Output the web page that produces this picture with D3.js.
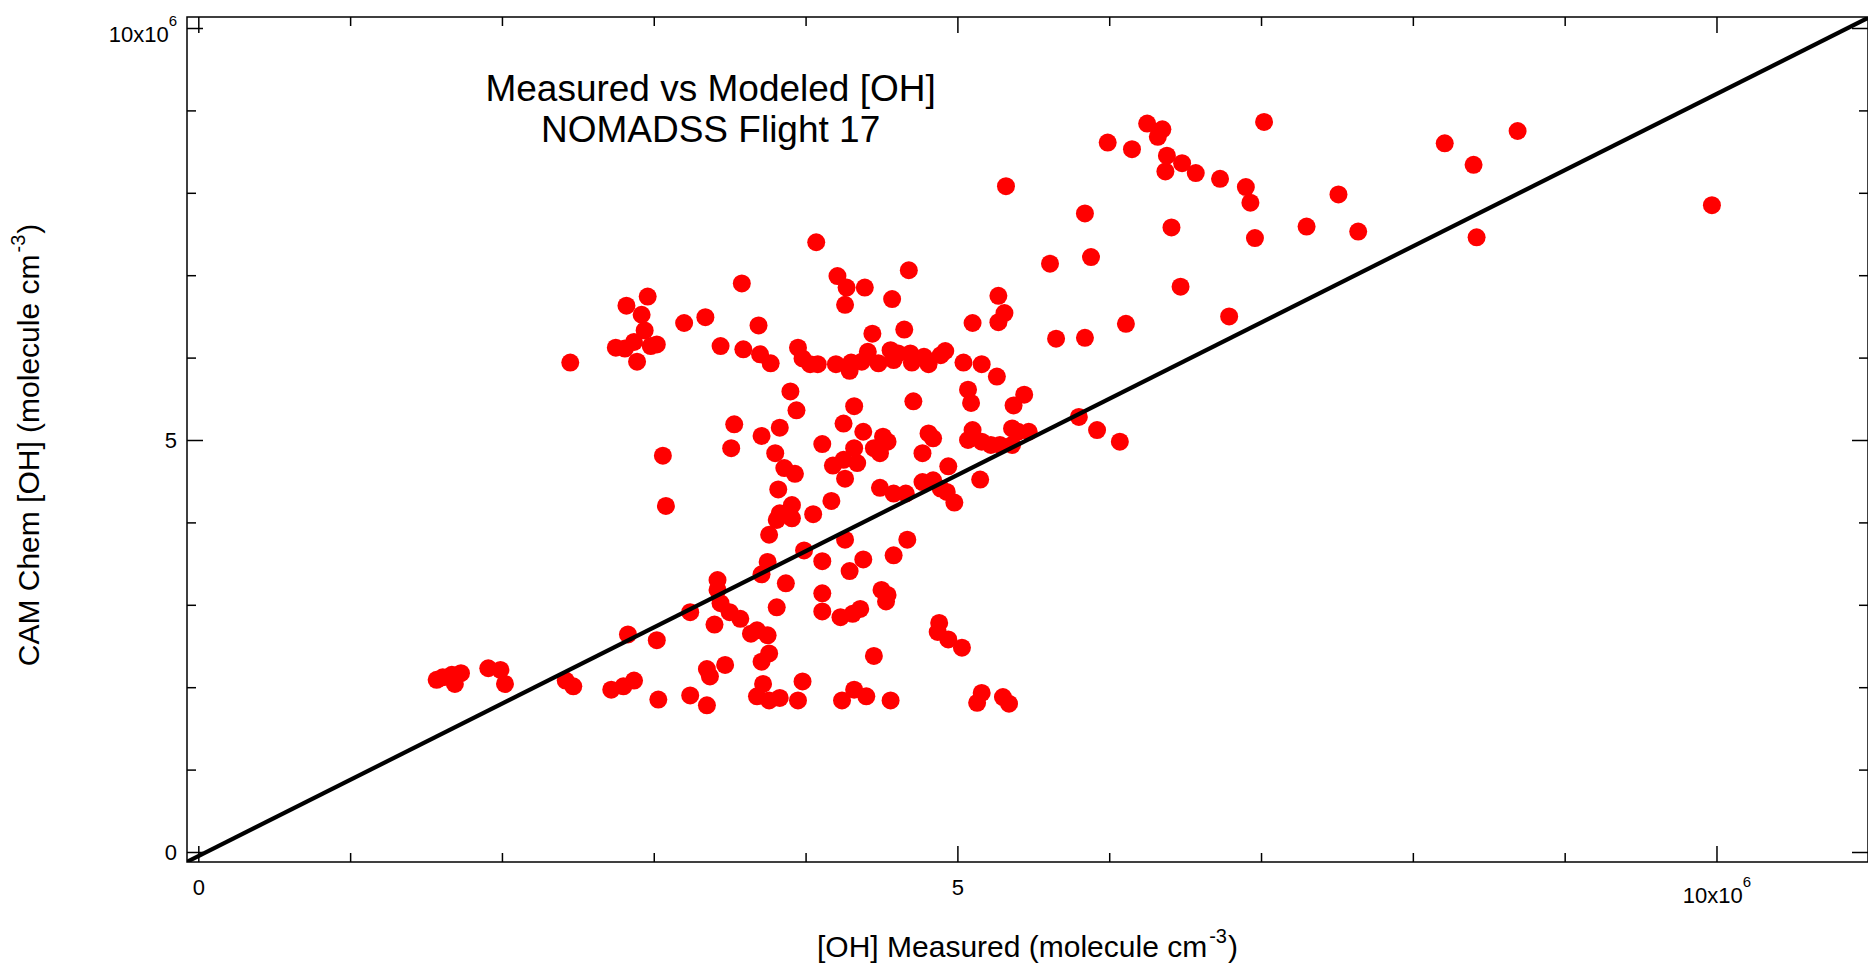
<!DOCTYPE html>
<html><head><meta charset="utf-8">
<script src="https://cdn.jsdelivr.net/npm/d3@7"></script>
<style>
body{margin:0;background:#fff}
svg{display:block}
text{font-family:"Liberation Sans",Arial,Helvetica,sans-serif;fill:#000}
</style>
</head><body>
<svg id="chart" width="1868" height="970"></svg>
<script>
// [OH] measured (x) and CAM Chem modeled (y), units of 1e6 molecule cm^-3
const measured = [
2.96,2.82,2.92,3.20,2.94,2.87,2.75,2.81,2.98,3.02,2.89,2.45,3.06,3.08,3.24,2.83,3.02,1.57,1.61,1.67,
1.73,1.69,1.91,1.99,2.02,2.42,2.47,2.72,2.80,2.87,3.03,3.24,4.07,3.58,4.21,4.27,4.39,4.26,3.34,3.69,
3.44,3.59,3.70,3.77,3.95,3.98,4.03,4.08,4.20,4.29,4.30,4.37,4.41,4.44,3.90,3.94,4.32,4.25,4.38,3.53,
3.83,3.71,3.51,4.11,3.80,4.32,4.45,4.18,4.25,4.34,3.86,3.93,4.26,3.82,4.17,3.91,3.83,3.91,3.81,4.05,
3.76,4.26,3.99,4.11,4.38,3.75,3.71,4.29,3.87,3.42,3.42,3.44,3.50,3.57,3.81,4.11,4.11,4.23,4.31,4.36,
3.40,3.64,3.68,3.75,3.76,3.71,3.35,3.37,3.47,3.72,3.68,3.76,3.83,3.98,3.95,3.35,4.24,4.32,4.40,4.45,
4.68,4.57,5.27,5.31,5.27,5.10,4.65,4.48,4.56,4.61,4.58,4.69,4.70,4.78,4.81,4.92,4.89,5.04,5.16,5.26,
5.07,5.09,5.44,5.37,4.71,4.51,4.54,4.49,4.81,4.84,4.77,4.94,5.10,5.07,5.16,5.22,5.28,5.36,5.40,5.47,
5.36,4.49,4.58,4.66,4.77,4.84,4.89,4.93,4.98,5.15,4.67,4.58,4.50,4.54,4.53,4.88,4.87,4.94,5.03,4.56,
5.16,5.13,5.30,5.34,6.25,6.35,6.32,7.02,5.99,6.15,6.38,6.48,6.37,6.57,6.73,6.90,6.93,5.32,5.84,6.41,
6.96,7.30,5.61,5.88,6.47,6.79,6.11,5.65,5.84,5.80,5.92,6.07,7.51,7.64,8.21,8.40,8.42,8.69,9.97
];
const modeled = [
6.74,6.63,6.52,6.42,6.33,6.19,6.12,6.11,6.14,6.16,5.95,5.94,4.81,4.20,2.91,2.64,2.57,2.09,2.12,2.15,
2.17,2.04,2.23,2.21,2.04,2.08,2.01,1.97,2.01,2.08,1.85,1.90,7.40,6.90,6.99,6.85,6.85,6.64,6.49,6.39,
6.14,6.10,6.04,5.93,6.12,5.99,5.92,5.92,5.92,5.84,5.94,5.95,6.07,6.29,5.59,5.36,5.41,5.20,5.10,5.19,
5.15,5.05,4.90,4.95,4.84,4.90,4.90,4.69,4.76,4.72,4.66,4.59,4.53,4.40,4.26,4.21,4.11,4.05,4.03,4.10,
3.85,3.79,3.66,3.53,3.55,3.52,3.37,3.41,3.26,3.30,3.18,3.02,2.91,2.83,2.97,3.14,2.92,2.85,2.89,2.95,
2.76,2.65,2.69,2.63,2.41,2.31,2.22,2.13,2.27,2.04,1.89,1.84,1.87,2.07,1.84,1.78,1.84,1.97,1.89,2.38,
7.06,6.71,6.75,6.54,6.43,6.42,6.34,5.93,6.09,6.05,5.97,6.05,5.94,6.01,5.92,6.08,6.03,5.94,5.92,5.77,
5.61,5.45,5.55,5.42,5.47,5.04,4.98,4.84,5.08,5.02,4.84,4.68,5.12,5.00,4.98,4.94,4.94,5.14,5.10,5.10,
4.94,4.42,4.35,4.35,4.49,4.51,4.41,4.37,4.24,4.52,3.79,3.60,3.18,3.12,3.04,2.78,2.67,2.58,2.48,1.84,
1.93,1.81,1.88,1.80,8.84,8.77,8.68,8.86,8.61,8.53,8.45,8.36,8.26,8.24,8.17,8.07,7.88,8.08,7.75,7.58,
7.45,7.59,7.14,7.22,6.86,6.50,6.41,6.23,6.24,5.28,5.12,4.98,7.98,7.53,8.60,8.34,7.46,8.75,7.85
];
const majorTicks = [0, 5, 10];
const minorTicks = [1, 2, 3, 4, 6, 7, 8, 9];
const tickLabels = ["0", "5", "10x10"];
const tickExponents = ["", "", "6"];
const fitSlope = 0.925, fitIntercept = -0.05;
const titleLines = ["Measured vs Modeled [OH]", "NOMADSS Flight 17"];
const xTitle = "[OH] Measured (molecule cm", yTitle = "CAM Chem [OH] (molecule cm", unitExp = "-3";

const svg = d3.select("#chart");
const pLeft = 187, pRight = 1868, pTop = 17, pBottom = 862;
const x = d3.scaleLinear().domain([-0.0745, 10.998]).range([pLeft, pRight]);
const y = d3.scaleLinear().domain([-0.1214, 10.1335]).range([pBottom, pTop]);
const FONT = '"Liberation Sans",Arial,Helvetica,sans-serif';

svg.append("rect").attr("width", 1868).attr("height", 970).attr("fill", "#fff");

svg.append("clipPath").attr("id", "plotclip").append("rect")
  .attr("x", pLeft).attr("y", pTop).attr("width", pRight - pLeft).attr("height", pBottom - pTop);

const data = measured.map((m, i) => ({m, c: modeled[i]}));

// points
svg.append("g").attr("clip-path", "url(#plotclip)")
  .selectAll("circle").data(data).join("circle")
  .attr("cx", d => x(d.m)).attr("cy", d => y(d.c)).attr("r", 9).attr("fill", "#ff0000");

// fit line
const xd = x.domain();
svg.append("path").attr("clip-path", "url(#plotclip)")
  .datum([xd[0], xd[1]])
  .attr("d", d3.line().x(d => x(d)).y(d => y(fitSlope * d + fitIntercept)))
  .attr("fill", "none").attr("stroke", "#000").attr("stroke-width", 4.2);

function styleAxis(g) {
  g.select(".domain").remove();
  g.attr("font-family", FONT).attr("font-size", 22);
  g.selectAll(".tick line").attr("stroke", "#000").attr("stroke-width", 1.5);
}
function addExp(g, extra) {
  g.selectAll(".tick text").each(function(d, i) {
    if (tickExponents[i]) {
      const t = d3.select(this);
      t.text(null);
      t.append("tspan").text(tickLabels[i]);
      t.append("tspan").attr("dy", -16).attr("font-size", 15).text(tickExponents[i]);
      extra(t);
    }
  });
}

// bottom
const gb = svg.append("g").attr("transform", `translate(0,${pBottom})`)
  .call(d3.axisBottom(x).tickValues(majorTicks).tickSize(-16).tickPadding(17).tickFormat((d, i) => tickLabels[i]));
styleAxis(gb);
addExp(gb, t => t.attr("y", 25));
const gbm = svg.append("g").attr("transform", `translate(0,${pBottom})`)
  .call(d3.axisBottom(x).tickValues(minorTicks).tickSize(-9).tickFormat(""));
styleAxis(gbm);

// left
const gl = svg.append("g").attr("transform", `translate(${pLeft},0)`)
  .call(d3.axisLeft(y).tickValues(majorTicks).tickSize(-16).tickPadding(10).tickFormat((d, i) => tickLabels[i]));
styleAxis(gl);
gl.selectAll(".tick text").attr("dy", 7.6);
addExp(gl, t => t.attr("dy", 13.7));
const glm = svg.append("g").attr("transform", `translate(${pLeft},0)`)
  .call(d3.axisLeft(y).tickValues(minorTicks).tickSize(-9).tickFormat(""));
styleAxis(glm);

// top
const gt = svg.append("g").attr("transform", `translate(0,${pTop})`)
  .call(d3.axisTop(x).tickValues(majorTicks).tickSize(-16).tickFormat(""));
styleAxis(gt);
const gtm = svg.append("g").attr("transform", `translate(0,${pTop})`)
  .call(d3.axisTop(x).tickValues(minorTicks).tickSize(-9).tickFormat(""));
styleAxis(gtm);

// right
const gr = svg.append("g").attr("transform", `translate(${pRight},0)`)
  .call(d3.axisRight(y).tickValues(majorTicks).tickSize(-16).tickFormat(""));
styleAxis(gr);
const grm = svg.append("g").attr("transform", `translate(${pRight},0)`)
  .call(d3.axisRight(y).tickValues(minorTicks).tickSize(-9).tickFormat(""));
styleAxis(grm);

// frame
svg.append("rect").attr("x", pLeft).attr("y", pTop).attr("width", pRight - pLeft).attr("height", pBottom - pTop)
  .attr("fill", "none").attr("stroke", "#000").attr("stroke-width", 1.5);

// axis titles
function unitTitle(sel, main) {
  sel.append("tspan").text(main);
  sel.append("tspan").attr("dy", -14).attr("dx", 2).attr("font-size", 20).text(unitExp);
  sel.append("tspan").attr("dy", 14).attr("dx", 1).text(")");
}
const xt = svg.append("text").attr("x", (pLeft + pRight) / 2).attr("y", 957)
  .attr("text-anchor", "middle").attr("font-size", 30);
unitTitle(xt, xTitle);
const yt = svg.append("text").attr("transform", "translate(39,445) rotate(-90)")
  .attr("text-anchor", "middle").attr("font-size", 30);
unitTitle(yt, yTitle);

// chart title
svg.selectAll("text.title").data(titleLines).join("text").attr("class", "title")
  .attr("x", 710.6).attr("y", (d, i) => 101 + i * 41)
  .attr("text-anchor", "middle").attr("font-size", 37).text(d => d);
</script>
</body></html>
